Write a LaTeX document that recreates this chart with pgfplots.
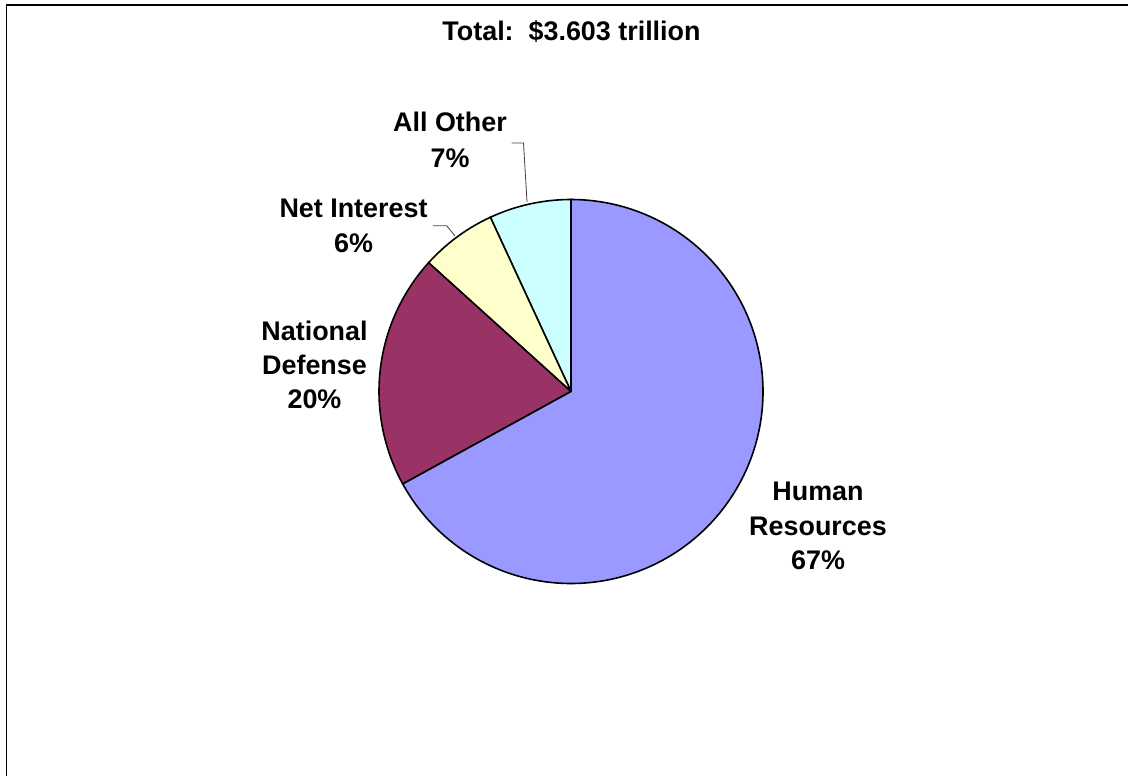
\documentclass[border=0pt]{standalone}
\usepackage{pgfplots}
\pgfplotsset{compat=1.18}
\usepackage{fontspec}
\setmainfont{Liberation Sans}
\definecolor{hrcol}{HTML}{9999FF}
\definecolor{ndcol}{HTML}{993366}
\definecolor{nicol}{HTML}{FFFFCC}
\definecolor{aocol}{HTML}{CCFFFF}
% shares of total outlays (percent)
\def\pOther{6.9}
\def\pInterest{6.4}
\def\pDefense{19.7}
\def\pHuman{67.0}
\def\cx{571}
\def\cy{391.5}
\def\rr{192}
\begin{document}
\begin{tikzpicture}
\pgfmathsetmacro{\aA}{90}
\pgfmathsetmacro{\aB}{\aA+3.6*\pOther}
\pgfmathsetmacro{\aC}{\aB+3.6*\pInterest}
\pgfmathsetmacro{\aD}{\aC+3.6*\pDefense}
\pgfmathsetmacro{\aE}{\aD+3.6*\pHuman}
\begin{axis}[scale only axis, width=1128bp, height=776bp,
  xmin=0, xmax=1128, ymin=0, ymax=776, y dir=reverse,
  hide axis, clip=false]
\addplot[fill=aocol, draw=black, line width=1.6bp, domain=\aA:\aB, samples=60, variable=\t, no markers]
  ({\cx+\rr*cos(t)},{\cy-\rr*sin(t)}) -- (\cx,\cy) -- cycle;
\addplot[fill=nicol, draw=black, line width=1.6bp, domain=\aB:\aC, samples=60, variable=\t, no markers]
  ({\cx+\rr*cos(t)},{\cy-\rr*sin(t)}) -- (\cx,\cy) -- cycle;
\addplot[fill=ndcol, draw=black, line width=1.6bp, domain=\aC:\aD, samples=120, variable=\t, no markers]
  ({\cx+\rr*cos(t)},{\cy-\rr*sin(t)}) -- (\cx,\cy) -- cycle;
\addplot[fill=hrcol, draw=black, line width=1.6bp, domain=\aD:\aE, samples=300, variable=\t, no markers]
  ({\cx+\rr*cos(t)},{\cy-\rr*sin(t)}) -- (\cx,\cy) -- cycle;
% frame
\draw[line width=1.7bp] (6.5,776) -- (6.5,4.9) -- (1128,4.9);
% leader lines
\draw[line width=0.8bp, black!75] (511.5,143) -- (523.5,143) -- (527,202);
\draw[line width=0.8bp, black!75] (433,225.7) -- (446.7,225.7) -- (455,236);
% labels
\begin{scope}[every node/.style={anchor=base, inner sep=0pt, font=\fontsize{27}{33}\selectfont\bfseries}]
\node at (571.5,41) {Total:\ \ \$3.603 trillion};
\node at (450,131.7) {All Other};
\node at (450,167.7) {7\%};
\node at (353.5,217.7) {Net Interest};
\node at (353.5,252.7) {6\%};
\node at (314.5,340) {National};
\node at (314.5,374) {Defense};
\node at (314.5,408) {20\%};
\node at (818,500.7) {Human};
\node at (818,535) {Resources};
\node at (818,569) {67\%};
\end{scope}
\end{axis}
\pgfresetboundingbox
\path[use as bounding box] (current axis.south west) rectangle (current axis.north east);
\end{tikzpicture}
\end{document}
